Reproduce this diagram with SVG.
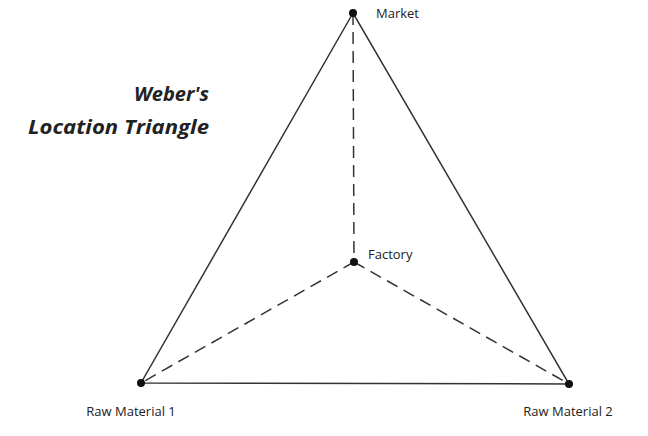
<svg xmlns="http://www.w3.org/2000/svg" width="648" height="436" viewBox="0 0 648 436">
<style>
.l{font-family:"Open Sans","Liberation Sans",sans-serif;font-size:13px;fill:#222}
.t{font-family:"Open Sans","Liberation Sans",sans-serif;font-size:20px;font-weight:bold;font-style:italic;fill:#222}
.s{stroke:#333;stroke-width:1.5;fill:none}
.d{stroke:#333;stroke-width:1.5;fill:none;stroke-dasharray:12,7}
</style>
<rect width="648" height="436" fill="#fff"/>
<g id="connectors">
<polygon class="s" points="353,13 141,383 569,384"/>
<line class="d" x1="353" y1="13" x2="354" y2="262"/>
<line class="d" x1="354" y1="262" x2="141" y2="383"/>
<line class="d" x1="354" y1="262" x2="569" y2="384"/>
</g>
<g id="title"><text class="t" x="209" y="101" text-anchor="end">Weber's</text><text class="t" x="209" y="134" text-anchor="end" textLength="181" lengthAdjust="spacingAndGlyphs">Location Triangle</text></g>
<g id="market"><circle cx="353" cy="13" r="4" fill="#111"/><text class="l" x="376" y="18">Market</text></g>
<g id="factory"><circle cx="354" cy="262" r="4" fill="#111"/><text class="l" x="368" y="259">Factory</text></g>
<g id="rm1"><circle cx="141" cy="383" r="4" fill="#111"/><text class="l" x="131" y="416" text-anchor="middle">Raw Material 1</text></g>
<g id="rm2"><circle cx="569" cy="384" r="4" fill="#111"/><text class="l" x="568" y="416" text-anchor="middle">Raw Material 2</text></g>
</svg>
